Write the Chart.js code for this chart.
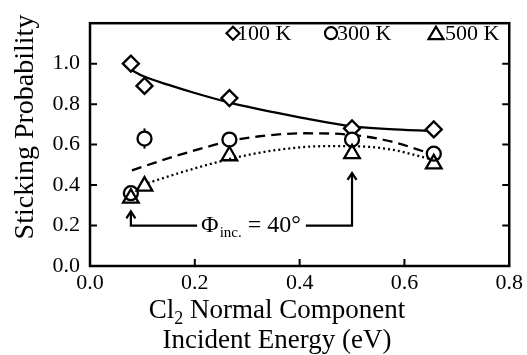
<!DOCTYPE html>
<html>
<head>
<meta charset="utf-8">
<script src="https://cdn.jsdelivr.net/npm/chart.js@4.4.0/dist/chart.umd.min.js"></script>
<style>
  html, body { margin: 0; padding: 0; background: #fff; }
  #grafico { display: block; }
</style>
</head>
<body>
<canvas id="grafico" width="527" height="355"></canvas>
<script>
// Energía normal incidente (eV) de cada medida
const energias = [0.078, 0.104, 0.266, 0.500, 0.656];

// Probabilidad de adsorción por temperatura
const prob100K = [1.00, 0.89, 0.83, 0.68, 0.675];
const prob300K = [0.36, 0.63, 0.625, 0.625, 0.555];
const prob500K = [0.335, 0.395, 0.545, 0.555, 0.505];
const error300K = [0, 0.05, 0, 0.04, 0.03]; // barras de error (300 K)

// Curvas de ajuste
const ajusteX100 = [0.075, 0.10, 0.15, 0.20, 0.27, 0.35, 0.40, 0.50, 0.60, 0.656];
const ajusteY100 = [0.975, 0.94, 0.895, 0.855, 0.805, 0.76, 0.735, 0.69, 0.673, 0.668];
const ajusteX300 = [0.08, 0.164, 0.267, 0.32, 0.41, 0.50, 0.574, 0.65];
const ajusteY300 = [0.473, 0.544, 0.617, 0.640, 0.656, 0.648, 0.616, 0.555];
const ajusteX500 = [0.11, 0.19, 0.267, 0.35, 0.446, 0.50, 0.574, 0.65];
const ajusteY500 = [0.41, 0.475, 0.529, 0.571, 0.592, 0.592, 0.576, 0.529];

// Marcas de los ejes
const ticksX = [0, 0.2, 0.4, 0.6, 0.8];
const ticksY = [0, 0.2, 0.4, 0.6, 0.8, 1.0];

const FUENTE = "'Liberation Serif', 'Times New Roman', serif";

const puntos = (xs, ys) => xs.map((x, i) => ({ x: x, y: ys[i] }));

// Barras de error verticales
const barrasError = {
  id: 'barrasError',
  beforeDatasetsDraw(chart) {
    const ctx = chart.ctx, sx = chart.scales.x, sy = chart.scales.y;
    ctx.save();
    ctx.strokeStyle = '#000';
    ctx.lineWidth = 2;
    energias.forEach((e, i) => {
      if (!error300K[i]) return;
      const px = sx.getPixelForValue(e);
      ctx.beginPath();
      ctx.moveTo(px, sy.getPixelForValue(prob300K[i] - error300K[i]));
      ctx.lineTo(px, sy.getPixelForValue(prob300K[i] + error300K[i]));
      ctx.stroke();
    });
    ctx.restore();
  }
};

// Marco, marcas internas, leyenda, anotación y títulos
const decoracion = {
  id: 'decoracion',
  afterDraw(chart) {
    const ctx = chart.ctx, a = chart.chartArea;
    const sx = chart.scales.x, sy = chart.scales.y;
    ctx.save();
    ctx.strokeStyle = '#000';
    ctx.fillStyle = '#000';

    // marco
    ctx.lineWidth = 2.5;
    ctx.strokeRect(a.left, a.top, a.right - a.left, a.bottom - a.top);

    // marcas hacia dentro
    ctx.lineWidth = 2;
    ctx.beginPath();
    ticksX.slice(1, -1).forEach(v => {
      const px = sx.getPixelForValue(v);
      ctx.moveTo(px, a.bottom);
      ctx.lineTo(px, a.bottom - 7);
    });
    ticksY.slice(1).forEach(v => {
      const py = sy.getPixelForValue(v);
      ctx.moveTo(a.left, py);
      ctx.lineTo(a.left + 7, py);
      ctx.moveTo(a.right, py);
      ctx.lineTo(a.right - 7, py);
    });
    ctx.stroke();

    // leyenda
    ctx.font = '22px ' + FUENTE;
    ctx.textBaseline = 'alphabetic';
    ctx.textAlign = 'left';
    const yLey = a.top + 10;
    ctx.lineWidth = 2.2;
    // rombo
    ctx.beginPath();
    ctx.moveTo(233, yLey - 6.5);
    ctx.lineTo(239.5, yLey);
    ctx.lineTo(233, yLey + 6.5);
    ctx.lineTo(226.5, yLey);
    ctx.closePath();
    ctx.stroke();
    ctx.fillText('100 K', 237, a.top + 17);
    // círculo
    ctx.beginPath();
    ctx.arc(331, yLey, 6, 0, Math.PI * 2);
    ctx.stroke();
    ctx.fillText('300 K', 337, a.top + 17);
    // triángulo
    ctx.beginPath();
    ctx.moveTo(436, yLey - 6.5);
    ctx.lineTo(443.5, yLey + 6);
    ctx.lineTo(428.5, yLey + 6);
    ctx.closePath();
    ctx.stroke();
    ctx.fillText('500 K', 445, a.top + 17);

    // anotación del ángulo de incidencia
    const xIzq = sx.getPixelForValue(energias[0]);
    const xDer = sx.getPixelForValue(energias[3]);
    const yLinea = sy.getPixelForValue(0.2);
    const yPuntaIzq = sy.getPixelForValue(0.27);
    const yPuntaDer = sy.getPixelForValue(0.46);
    let xt = sx.getPixelForValue(0.212);
    const inicioTexto = xt;
    ctx.font = '24px ' + FUENTE;
    ctx.fillText('Φ', xt, yLinea + 6);
    xt += ctx.measureText('Φ').width + 1;
    ctx.font = '15px ' + FUENTE;
    ctx.fillText('inc.', xt, yLinea + 11);
    xt += ctx.measureText('inc.').width;
    ctx.font = '24px ' + FUENTE;
    ctx.fillText(' = 40°', xt, yLinea + 6);
    xt += ctx.measureText(' = 40°').width;

    ctx.lineWidth = 2.2;
    ctx.beginPath();
    ctx.moveTo(xIzq, yPuntaIzq);
    ctx.lineTo(xIzq, yLinea);
    ctx.lineTo(inicioTexto - 4, yLinea);
    ctx.moveTo(xt + 5, yLinea);
    ctx.lineTo(xDer, yLinea);
    ctx.lineTo(xDer, yPuntaDer);
    // puntas de flecha
    [[xIzq, yPuntaIzq], [xDer, yPuntaDer]].forEach(p => {
      ctx.moveTo(p[0] - 4.5, p[1] + 7);
      ctx.lineTo(p[0], p[1]);
      ctx.lineTo(p[0] + 4.5, p[1] + 7);
    });
    ctx.stroke();

    // título eje X (dos líneas, con subíndice)
    const cx = 277;
    ctx.font = '27px ' + FUENTE;
    const wCl = ctx.measureText('Cl').width;
    const wResto = ctx.measureText(' Normal Component').width;
    ctx.font = '18px ' + FUENTE;
    const wSub = ctx.measureText('2').width;
    let x0 = cx - (wCl + wSub + wResto) / 2;
    ctx.font = '27px ' + FUENTE;
    ctx.fillText('Cl', x0, 318);
    ctx.font = '18px ' + FUENTE;
    ctx.fillText('2', x0 + wCl, 324);
    ctx.font = '27px ' + FUENTE;
    ctx.fillText(' Normal Component', x0 + wCl + wSub, 318);
    ctx.textAlign = 'center';
    ctx.fillText('Incident Energy (eV)', cx, 348);

    // título eje Y
    ctx.translate(33, 127);
    ctx.rotate(-Math.PI / 2);
    ctx.font = '28px ' + FUENTE;
    ctx.textAlign = 'center';
    ctx.fillText('Sticking Probability', 0, 0);
    ctx.restore();
  }
};

const marcador = (etiqueta, ys, estilo, radio, relleno, orden) => ({
  label: etiqueta,
  data: puntos(energias, ys),
  showLine: false,
  pointStyle: estilo,
  pointRadius: radio,
  pointBorderWidth: 2.3,
  pointBorderColor: '#000',
  pointBackgroundColor: relleno,
  order: orden
});

const curva = (xs, ys, guiones) => ({
  data: puntos(xs, ys),
  showLine: true,
  borderColor: '#000',
  borderWidth: 2.3,
  borderDash: guiones,
  pointRadius: 0,
  cubicInterpolationMode: 'monotone',
  order: 5
});

new Chart(document.getElementById('grafico'), {
  type: 'scatter',
  data: {
    datasets: [
      marcador('500 K', prob500K, 'triangle', 9, 'rgba(0,0,0,0)', 0),
      marcador('300 K', prob300K, 'circle', 7, '#fff', 1),
      marcador('100 K', prob100K, 'rectRot', 8, '#fff', 2),
      curva(ajusteX100, ajusteY100, []),
      curva(ajusteX300, ajusteY300, [10, 6]),
      curva(ajusteX500, ajusteY500, [2, 3])
    ]
  },
  options: {
    responsive: false,
    animation: false,
    layout: { padding: { top: 15, right: 16, left: 0, bottom: 0 } },
    plugins: { legend: { display: false }, tooltip: { enabled: false } },
    scales: {
      x: {
        type: 'linear', min: 0, max: 0.8,
        afterBuildTicks: s => { s.ticks = ticksX.map(v => ({ value: v })); },
        afterFit: s => { s.height = 89; },
        ticks: {
          font: { family: FUENTE, size: 22 }, color: '#000', padding: 4,
          maxRotation: 0, callback: v => v.toFixed(1)
        },
        grid: { display: false, drawTicks: false },
        border: { display: false }
      },
      y: {
        type: 'linear', min: 0, max: 1.2,
        afterBuildTicks: s => { s.ticks = ticksY.map(v => ({ value: v })); },
        afterFit: s => { s.width = 90; },
        ticks: {
          font: { family: FUENTE, size: 22 }, color: '#000', padding: 10,
          callback: v => v.toFixed(1)
        },
        grid: { display: false, drawTicks: false },
        border: { display: false }
      }
    }
  },
  plugins: [barrasError, decoracion]
});
</script>
</body>
</html>
